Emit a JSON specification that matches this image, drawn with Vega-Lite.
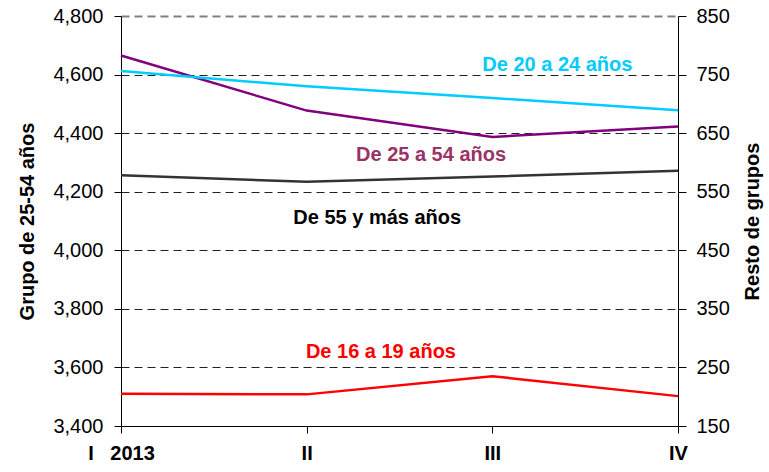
{
  "$schema": "https://vega.github.io/schema/vega-lite/v6.json",
  "width": 557,
  "height": 410,
  "autosize": "none",
  "padding": {"left": 121, "top": 16, "right": 91, "bottom": 46},
  "background": "white",
  "config": {
    "view": {"stroke": null},
    "font": "Liberation Sans",
    "axis": {"labelFont": "Liberation Sans", "titleFont": "Liberation Sans"}
  },
  "datasets": {
    "izq": [
      {"q": 0, "serie": "De 25 a 54 años", "v": 4665},
      {"q": 1, "serie": "De 25 a 54 años", "v": 4477},
      {"q": 2, "serie": "De 25 a 54 años", "v": 4387},
      {"q": 3, "serie": "De 25 a 54 años", "v": 4423}
    ],
    "der": [
      {"q": 0, "serie": "De 20 a 24 años", "v": 756},
      {"q": 1, "serie": "De 20 a 24 años", "v": 730},
      {"q": 2, "serie": "De 20 a 24 años", "v": 710},
      {"q": 3, "serie": "De 20 a 24 años", "v": 689},
      {"q": 0, "serie": "De 55 y más años", "v": 578},
      {"q": 1, "serie": "De 55 y más años", "v": 567},
      {"q": 2, "serie": "De 55 y más años", "v": 576},
      {"q": 3, "serie": "De 55 y más años", "v": 586},
      {"q": 0, "serie": "De 16 a 19 años", "v": 205},
      {"q": 1, "serie": "De 16 a 19 años", "v": 204},
      {"q": 2, "serie": "De 16 a 19 años", "v": 235},
      {"q": 3, "serie": "De 16 a 19 años", "v": 201}
    ],
    "etiquetas": [
      {"q": 2.35, "v": 766, "serie": "De 20 a 24 años"},
      {"q": 1.67, "v": 612, "serie": "De 25 a 54 años"},
      {"q": 1.38, "v": 505, "serie": "De 55 y más años"},
      {"q": 1.40, "v": 276, "serie": "De 16 a 19 años"}
    ]
  },
  "layer": [
    {
      "data": {"name": "izq"},
      "mark": {"type": "line", "strokeWidth": 2.5, "clip": false},
      "encoding": {
        "x": {
          "field": "q",
          "type": "quantitative",
          "scale": {"domain": [0, 3], "nice": false, "zero": false},
          "axis": {
            "values": [0, 1, 2, 3],
            "labelExpr": "['I\u00a0\u00a0\u00a02013','II','III','IV'][datum.value]",
            "title": null,
            "grid": false,
            "domainColor": "#000",
            "domainWidth": 1,
            "tickColor": "#000",
            "tickSize": 7,
            "labelPadding": 10,
            "labelFontSize": 20,
            "labelFontWeight": "bold",
            "labelColor": "#000",
            "labelFlush": false
          }
        },
        "y": {
          "field": "v",
          "type": "quantitative",
          "scale": {"domain": [3400, 4800], "nice": false, "zero": false},
          "axis": {
            "orient": "left",
            "values": [3400, 3600, 3800, 4000, 4200, 4400, 4600, 4800],
            "format": ",.0f",
            "title": "Grupo de 25-54 años",
            "titleFontSize": 20,
            "titleFontWeight": "bold",
            "titleColor": "#000",
            "titlePadding": 15,
            "labelFontSize": 20,
            "labelColor": "#000",
            "labelPadding": 11,
            "tickSize": 7,
            "tickColor": "#000",
            "domainColor": "#000",
            "grid": true,
            "gridColor": {"condition": {"test": "datum.value == 4800", "value": "#808080"}, "value": "#222"},
            "gridWidth": {"condition": {"test": "datum.value == 4800", "value": 2}, "value": 1},
            "gridDash": [8, 5]
          }
        },
        "color": {
          "field": "serie",
          "type": "nominal",
          "scale": {"domain": ["De 25 a 54 años"], "range": ["#800080"]},
          "legend": null
        }
      }
    },
    {
      "data": {"name": "der"},
      "mark": {"type": "line", "strokeWidth": 2.5, "clip": false},
      "encoding": {
        "x": {"field": "q", "type": "quantitative"},
        "y": {
          "field": "v",
          "type": "quantitative",
          "scale": {"domain": [150, 850], "nice": false, "zero": false},
          "axis": {
            "orient": "right",
            "values": [150, 250, 350, 450, 550, 650, 750, 850],
            "title": "Resto de grupos",
            "titleAngle": -90,
            "titleBaseline": "top",
            "titleFontSize": 20,
            "titleFontWeight": "bold",
            "titleColor": "#000",
            "titlePadding": 13,
            "labelFontSize": 20,
            "labelColor": "#000",
            "labelPadding": 10,
            "tickSize": 8,
            "tickColor": "#000",
            "domainColor": "#000",
            "grid": false
          }
        },
        "color": {
          "field": "serie",
          "type": "nominal",
          "scale": {
            "domain": ["De 20 a 24 años", "De 55 y más años", "De 16 a 19 años"],
            "range": ["#00CCFF", "#333333", "#FF0000"]
          },
          "legend": null
        }
      }
    },
    {
      "data": {"name": "etiquetas"},
      "mark": {"type": "text", "fontSize": 20, "fontWeight": "bold", "align": "center", "baseline": "middle"},
      "encoding": {
        "x": {"field": "q", "type": "quantitative"},
        "y": {
          "field": "v",
          "type": "quantitative",
          "scale": {"domain": [150, 850], "nice": false, "zero": false},
          "axis": null
        },
        "text": {"field": "serie"},
        "color": {
          "field": "serie",
          "type": "nominal",
          "scale": {
            "domain": ["De 20 a 24 años", "De 25 a 54 años", "De 55 y más años", "De 16 a 19 años"],
            "range": ["#00CCFF", "#993366", "#000000", "#FF0000"]
          },
          "legend": null
        }
      }
    }
  ],
  "resolve": {"scale": {"y": "independent", "color": "independent"}}
}
